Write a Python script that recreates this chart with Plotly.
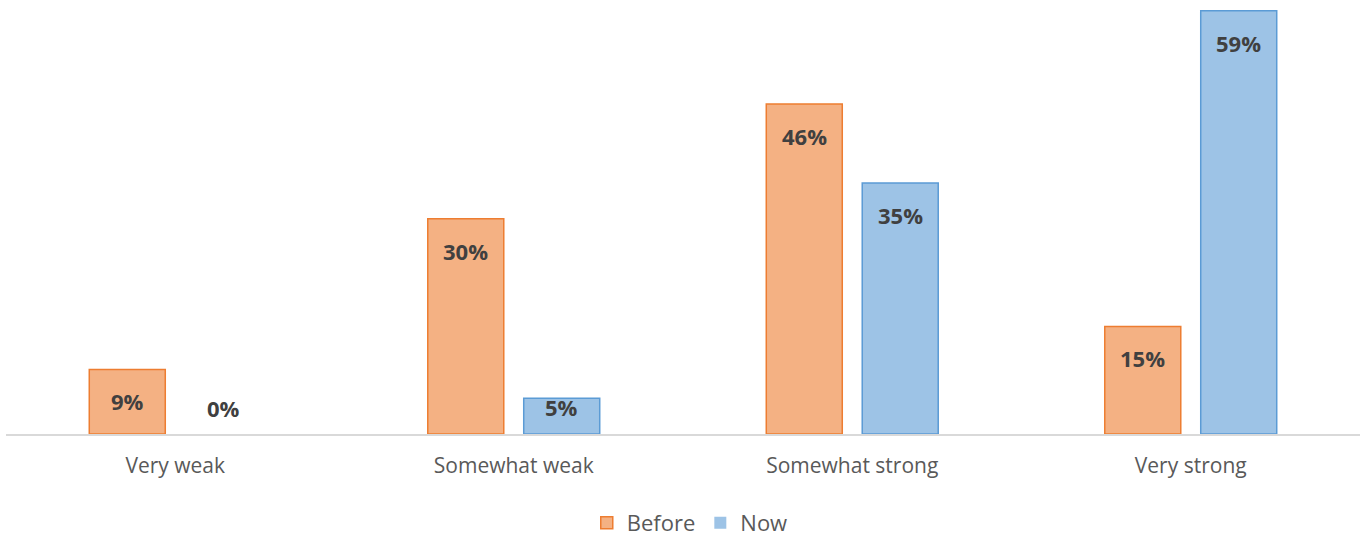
import plotly.graph_objects as go

categories = ["Very weak", "Somewhat weak", "Somewhat strong", "Very strong"]
before = [9, 30, 46, 15]
now = [0, 5, 35, 59]
series_names = ["Before", "Now"]

font_family = "Open Sans, Lato, sans-serif"
label_color = "#404040"

PLOT_H = 434
Y_MAX = 60.5

fig = go.Figure()
fig.add_trace(go.Bar(
    x=categories, y=before, name=series_names[0],
    marker=dict(color="#F4B183",
                line=dict(color="#ED7D31", width=[0 if v == 0 else 1.5 for v in before])),
    cliponaxis=False, hoverinfo="x+y",
))
fig.add_trace(go.Bar(
    x=categories, y=now, name=series_names[1],
    marker=dict(color="#9DC3E6",
                line=dict(color="#5B9BD5", width=[0 if v == 0 else 1.5 for v in now])),
    cliponaxis=False, hoverinfo="x+y",
))


def label_shift(v):
    h = v * PLOT_H / Y_MAX
    if v == 0:
        return 26
    if h < 60:
        return -9
    return -32


# data labels placed just inside the top of each bar (Excel "inside end")
for vals, shift in ((before, -48), (now, 48)):
    for cat, v in zip(categories, vals):
        fig.add_annotation(
            x=cat, y=v, xref="x", yref="y", xshift=shift,
            yshift=label_shift(v), yanchor="middle",
            text=f"{v}%", showarrow=False,
            font=dict(family=font_family, size=22, color=label_color, weight="bold"),
        )

fig.update_layout(
    width=1364, height=536,
    margin=dict(l=6, r=4, t=0, b=536 - PLOT_H, autoexpand=False),
    paper_bgcolor="white", plot_bgcolor="white",
    barmode="group", bargap=0.433, bargroupgap=0.208,
    font=dict(family=font_family, size=21, color="#595959"),
    legend=dict(orientation="h", x=0.505, xanchor="center", y=-0.205, yanchor="middle",
                font=dict(size=22, color="#595959"),
                traceorder="normal", itemwidth=30),
    xaxis=dict(showline=True, linecolor="#D9D9D9", linewidth=1.5, automargin=False,
               ticks="outside", ticklen=12, tickcolor="rgba(0,0,0,0)",
               tickfont=dict(size=21, color="#595959"), showgrid=False),
    yaxis=dict(range=[0, Y_MAX], visible=False, showgrid=False, zeroline=False),
)

fig.write_html("out.html")
